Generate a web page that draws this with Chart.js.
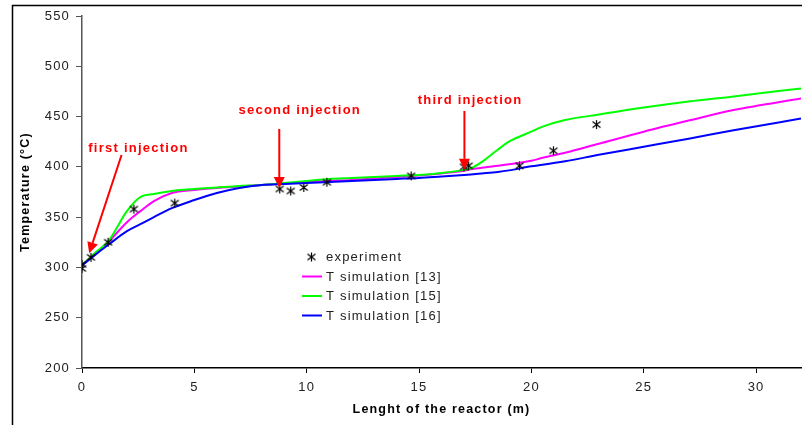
<!DOCTYPE html>
<html>
<head>
<meta charset="utf-8">
<script src="https://cdn.jsdelivr.net/npm/chart.js@4.4.1/dist/chart.umd.min.js"></script>
<style>body{margin:0;background:#fff}</style>
</head>
<body>
<canvas id="tempChart" width="802" height="425"></canvas>
<script>
// reactor length (m) used for the simulated profiles
const simX  = [0, 0.5, 1.2, 2, 2.6, 3.2, 4, 5, 6, 7, 8, 9, 10, 11, 12, 13, 14, 15, 16, 17, 17.3, 17.8, 18.5, 19, 20, 20.5, 21.5, 23, 25, 27, 29, 32];
const sim13 = [302, 312, 326, 345, 356, 366, 374, 377, 379, 380.5, 382, 383.5, 385, 386, 387, 388.5, 390, 391.5, 393.5, 396, 397.5, 399, 401, 402.5, 406, 409, 414, 423, 435, 446, 456.5, 468];
const sim15 = [302, 313, 327, 356, 370, 373, 376, 378, 379.5, 381, 382, 384, 386, 388, 389, 390, 391, 392, 394, 397, 398.5, 405, 417, 425, 435, 440, 446.5, 452, 459, 465, 470, 478];
const sim16 = [302, 311, 323, 336, 343, 350, 359, 367, 374, 379, 382, 383, 384, 385, 386, 387, 388, 389, 390.5, 392, 392.5, 393.5, 395, 396.5, 400.5, 402, 405.5, 412, 420, 428, 436.5, 448];

// measured temperatures
const expX = [0, 0, 0.4, 1.16, 2.31, 4.13, 8.8, 9.29, 9.87, 10.9, 14.65, 17.0, 17.21, 19.47, 20.98, 22.9];
const expY = [303, 299, 310, 325, 358, 364, 378, 376, 379.5, 384.7, 391, 400, 401, 401, 416, 442];

const seriesNames = ["experiment", "T simulation [13]", "T simulation [15]", "T simulation [16]"];
const seriesColors = ["#000000", "#ff00ff", "#00ff00", "#0000ff"];

// injection notes: label position and arrow, in axis units
const notes = [
  { text: "first injection",  tx: 2.51,  ty: 418.8, fx: 1.76,  fy: 411.8, toX: 0.32,  toY: 314 },
  { text: "second injection", tx: 9.69,  ty: 456.6, fx: 8.78,  fy: 437.7, toX: 8.78,  toY: 379 },
  { text: "third injection",  tx: 17.27, ty: 466.5, fx: 17.02, fy: 455.6, toX: 17.02, toY: 397 }
];

function starMark() {
  const c = document.createElement("canvas");
  c.width = c.height = 11;
  const g = c.getContext("2d");
  g.strokeStyle = "#000";
  g.lineWidth = 1.2;
  g.beginPath();
  g.moveTo(5.5, 1); g.lineTo(5.5, 10);
  g.moveTo(1.5, 2.5); g.lineTo(9.5, 8.5);
  g.moveTo(9.5, 2.5); g.lineTo(1.5, 8.5);
  g.stroke();
  return c;
}
const star = starMark();

const pts = (xs, ys) => xs.map((v, i) => ({ x: v, y: ys[i] }));

const decor = {
  id: "decor",
  beforeDraw(chart) {
    chart.ctx.letterSpacing = "1.2px";
  },
  afterDraw(chart) {
    const { ctx } = chart;
    const x = chart.scales.x, y = chart.scales.y;
    ctx.save();

    // outer frame
    ctx.strokeStyle = "#000";
    ctx.lineWidth = 1.5;
    ctx.beginPath();
    ctx.moveTo(12.5, 425);
    ctx.lineTo(12.5, 5.5);
    ctx.lineTo(802, 5.5);
    ctx.stroke();

    // injection labels + arrows
    ctx.fillStyle = "#ff0000";
    ctx.strokeStyle = "#ff0000";
    ctx.font = "bold 13px 'Liberation Sans', Arial, sans-serif";
    ctx.letterSpacing = "1.25px";
    ctx.textAlign = "center";
    ctx.textBaseline = "middle";
    notes.forEach(n => {
      ctx.fillText(n.text, x.getPixelForValue(n.tx), y.getPixelForValue(n.ty));
      const x1 = x.getPixelForValue(n.fx), y1 = y.getPixelForValue(n.fy);
      const x2 = x.getPixelForValue(n.toX), y2 = y.getPixelForValue(n.toY);
      const a = Math.atan2(y2 - y1, x2 - x1);
      const hl = 11, hw = 5.5;
      const bx = x2 - hl * Math.cos(a), by = y2 - hl * Math.sin(a);
      ctx.lineWidth = 2;
      ctx.beginPath();
      ctx.moveTo(x1, y1);
      ctx.lineTo(bx, by);
      ctx.stroke();
      ctx.beginPath();
      ctx.moveTo(x2, y2);
      ctx.lineTo(bx + hw * Math.sin(a), by - hw * Math.cos(a));
      ctx.lineTo(bx - hw * Math.sin(a), by + hw * Math.cos(a));
      ctx.closePath();
      ctx.fill();
    });

    // legend
    ctx.letterSpacing = "1.2px";
    ctx.font = "13px 'Liberation Sans', Arial, sans-serif";
    ctx.textAlign = "left";
    ctx.fillStyle = "#222";
    const rows = [257, 276.5, 296, 315.5];
    seriesNames.forEach((name, i) => {
      const ry = rows[i];
      if (i === 0) {
        ctx.drawImage(star, 306, ry - 5.5);
      } else {
        ctx.strokeStyle = seriesColors[i];
        ctx.lineWidth = 2;
        ctx.beginPath();
        ctx.moveTo(302, ry);
        ctx.lineTo(322, ry);
        ctx.stroke();
      }
      ctx.fillText(name, 326, ry + 0.5);
    });

    ctx.restore();
  }
};

const lineSet = (i, ys, ord) => ({
  label: seriesNames[i],
  data: pts(simX, ys),
  borderColor: seriesColors[i],
  borderWidth: 2,
  pointRadius: 0,
  cubicInterpolationMode: "monotone",
  order: ord
});

new Chart(document.getElementById("tempChart").getContext("2d"), {
  type: "line",
  data: {
    datasets: [
      {
        label: seriesNames[0],
        data: pts(expX, expY),
        showLine: false,
        pointStyle: star,
        pointRadius: 5,
        order: 0
      },
      lineSet(1, sim13, 3),
      lineSet(2, sim15, 2),
      lineSet(3, sim16, 1)
    ]
  },
  options: {
    responsive: false,
    maintainAspectRatio: false,
    animation: false,
    layout: { autoPadding: false, padding: { top: 16, right: 1, left: 0, bottom: 0 } },
    plugins: { legend: { display: false }, tooltip: { enabled: false } },
    scales: {
      x: {
        type: "linear",
        min: 0,
        max: 32,
        afterFit(s) { s.height = 57; },
        ticks: {
          stepSize: 5,
          includeBounds: false,
          padding: 7,
          color: "#222",
          font: { family: "'Liberation Sans', Arial, sans-serif", size: 13 },
          maxRotation: 0
        },
        grid: { drawOnChartArea: false, drawTicks: true, tickLength: 5, color: "#000" },
        border: { display: true, color: "#000", width: 1.5 },
        title: {
          display: true,
          text: "Lenght of the reactor (m)",
          color: "#000",
          font: { family: "'Liberation Sans', Arial, sans-serif", size: 12.5, weight: "bold" },
          padding: { top: 0, bottom: 8 }
        }
      },
      y: {
        min: 200,
        max: 550,
        afterFit(s) { s.width = 82; },
        ticks: {
          stepSize: 50,
          padding: 6,
          color: "#222",
          font: { family: "'Liberation Sans', Arial, sans-serif", size: 13 }
        },
        grid: { drawOnChartArea: false, drawTicks: true, tickLength: 6, color: "#555" },
        border: { display: true, color: "#555", width: 1.5 },
        title: {
          display: true,
          text: "Temperature (°C)",
          color: "#000",
          font: { family: "'Liberation Sans', Arial, sans-serif", size: 12.5, weight: "bold" },
          padding: { top: 18, bottom: 0 }
        }
      }
    }
  },
  plugins: [decor]
});
</script>
</body>
</html>
